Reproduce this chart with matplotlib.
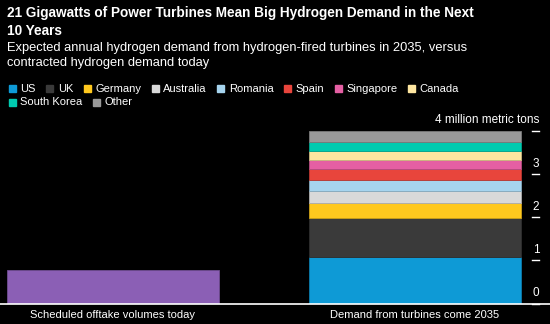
import numpy as np
import matplotlib.pyplot as plt
from matplotlib.colors import to_rgb
from matplotlib.patches import Rectangle
from matplotlib.transforms import blended_transform_factory

plt.rcParams['font.family'] = ['Liberation Sans', 'DejaVu Sans']

categories = ['Scheduled offtake volumes today', 'Demand from turbines come 2035']
offtake_today = 0.77

countries = ['US', 'UK', 'Germany', 'Australia', 'Romania', 'Spain',
             'Singapore', 'Canada', 'South Korea', 'Other']
demand_2035 = [1.08, 0.89, 0.35, 0.29, 0.25, 0.25, 0.22, 0.20, 0.21, 0.26]
colors = ['#0e9ad6', '#3a3a3a', '#ffc81e', '#d9d9d9', '#a6d4ee', '#e8453c',
          '#e55fa3', '#fee6a0', '#00cbb0', '#999999']
purple = '#8b5fb5'
ytick_vals = [0, 1, 2, 3, 4]

title_lines = ['21 Gigawatts of Power Turbines Mean Big Hydrogen Demand in the Next',
               '10 Years']
subtitle_lines = ['Expected annual hydrogen demand from hydrogen-fired turbines in 2035, versus',
                  'contracted hydrogen demand today']

W, H = 550, 324
fig = plt.figure(figsize=(5.5, 3.24), dpi=100, facecolor='black')
ax = fig.add_axes([0, 1 - 303.5 / H, 1, 172.8 / H])
ax.set_facecolor('black')


def darker(c, f=0.8):
    return tuple(v * f for v in to_rgb(c))


x = np.arange(len(categories))
ax.bar(x[0], offtake_today, width=0.7, color=purple, edgecolor=darker(purple), linewidth=0.6)
bottom = 0.0
for val, col in zip(demand_2035, colors):
    ax.bar(x[1], val, bottom=bottom, width=0.7, color=col, edgecolor=darker(col), linewidth=0.6)
    bottom += val

ax.set_xlim(-0.374, -0.374 + W / 302)
ax.set_ylim(0, 4)
for s in ax.spines.values():
    s.set_visible(False)
ax.set_xticks([])
ax.set_yticks([])
ax.axhline(0, color='white', lw=1.2, clip_on=False)

# y scale on the right, labels sitting above the tick marks
tr = blended_transform_factory(ax.transAxes, ax.transData)
for v in ytick_vals:
    ax.plot([531.5 / W, 539 / W], [v, v], color='white', lw=1, transform=tr, clip_on=False)
    if v < 4:
        ax.text(536 / W, v + 0.1, str(v), color='white', fontsize=8.5, ha='center',
                va='bottom', transform=tr)
ax.text(539 / W, 4.12, '4 million metric tons', color='white', fontsize=8.5,
        ha='right', va='bottom', transform=tr)

for xi, lab in zip(x, categories):
    ax.text(xi, -0.15, lab, color='white', fontsize=8, ha='center', va='top')

# titles
for ln, yb in zip(title_lines, [17, 35]):
    fig.text(7 / W, 1 - yb / H, ln, color='white', fontsize=9.8, fontweight='bold',
             ha='left', va='baseline')
for ln, yb in zip(subtitle_lines, [51, 66]):
    fig.text(7 / W, 1 - yb / H, ln, color='white', fontsize=9.25,
             ha='left', va='baseline')

# legend, flowed left to right
fig.canvas.draw()
renderer = fig.canvas.get_renderer()
px, py = 9, 88.8
for name, col in zip(countries, colors):
    t = fig.text(0, 0, name, color='white', fontsize=8, ha='left', va='center')
    w = t.get_window_extent(renderer).width
    if px + 11.5 + w > 470:
        px, py = 9, py + 13.5
    fig.add_artist(Rectangle((px / W, 1 - (py + 3.5) / H), 7 / W, 7 / H,
                             transform=fig.transFigure, color=col))
    t.set_position(((px + 11.5) / W, 1 - py / H))
    px += 11.5 + w + 10.5

fig.savefig('out.png', dpi=100, facecolor='black')
